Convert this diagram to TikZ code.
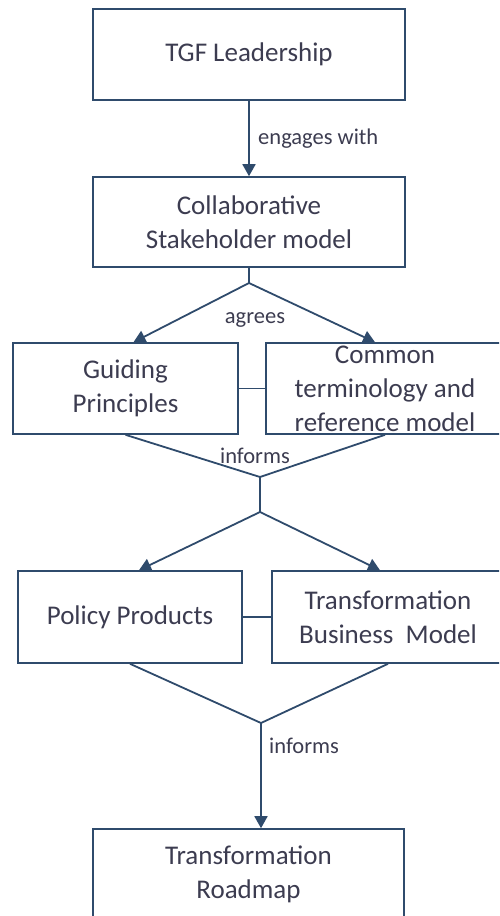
\documentclass[tikz,border=0pt]{standalone}
\usepackage{fontspec}
\setmainfont{Carlito}
\usepackage{xcolor}
\usetikzlibrary{arrows.meta,positioning,calc}

\definecolor{linkblue}{HTML}{2F4B6C}
\definecolor{boxtext}{HTML}{3C3C50}

\begin{document}
\begin{tikzpicture}[x=1pt, y=-1pt,
    every node/.style={text=boxtext},
    stagebox/.style={draw=linkblue, line width=1.6pt, align=center,
      font=\fontsize{27}{34}\selectfont, inner sep=0pt, minimum height=91pt},
    flow/.style={draw=linkblue, line width=1.8pt},
    tip/.style={-{Triangle[width=13pt,length=12pt]}},
    linklabel/.style={font=\fontsize{22.5}{27}\selectfont}]
  \useasboundingbox (0,0) rectangle (499,916);
  \clip (0,0) rectangle (499,916);
  % Stages
  \node[stagebox, minimum width=312pt] (tgf) at (249,54.5) {TGF Leadership};
  \node[stagebox, minimum width=312pt, minimum height=90pt] (stake) at (249,222)
    {Collaborative\\Stakeholder model};
  \node[stagebox, minimum width=225pt] (guiding) at (125.5,388.5) {Guiding\\Principles};
  \node[stagebox, minimum width=238pt] (common) at (385,388.5)
    {Common\\terminology and\\reference model};
  \node[stagebox, minimum width=224pt, minimum height=92pt] (policy) at (130,617)
    {Policy Products};
  \node[stagebox, minimum width=232pt, minimum height=92pt] (business) at (388,617)
    {Transformation\\Business\ \ Model};
  \node[stagebox, minimum width=311pt] (roadmap) at (248.5,874.5)
    {Transformation\\Roadmap};
  % Leadership engages the stakeholders
  \draw[flow, tip] (tgf) -- (stake) node[linklabel, midway, right=5pt] (engages) {engages with};
  % Stakeholders agree on principles and terminology
  \coordinate (split1) at (249,283);
  \draw[flow] (stake) -- (split1);
  \draw[flow, tip] (split1) -- ([xshift=8pt]guiding.north);
  \draw[flow, tip] (split1) -- ([xshift=-10pt]common.north);
  \node[linklabel] (agrees) at (255,320) {agrees};
  \draw[flow] (guiding) -- (common);
  % Both inform the products and the business model
  \coordinate (merge1) at (260,477);
  \coordinate (split2) at (260,512);
  \draw[flow] (guiding.south) -- (merge1) -- (common.south);
  \draw[flow] (merge1) -- (split2);
  \node[linklabel] (informsA) at (255,456) {informs};
  \draw[flow, tip] (split2) -- ([xshift=9pt]policy.north);
  \draw[flow, tip] (split2) -- ([xshift=-8pt]business.north);
  \draw[flow] (policy) -- (business);
  % ... which in turn inform the roadmap
  \coordinate (merge2) at (261,723);
  \draw[flow] (policy.south) -- (merge2) -- (business.south);
  \draw[flow, tip] (merge2) -- (merge2 |- roadmap.north)
    node[linklabel, pos=0.22, right=4pt] (informsB) {informs};
\end{tikzpicture}
\end{document}
